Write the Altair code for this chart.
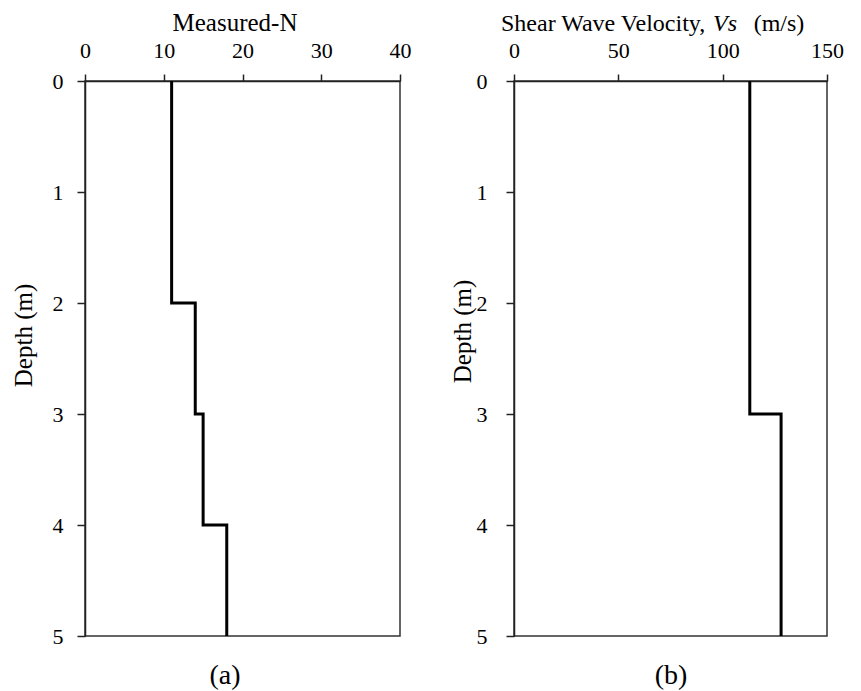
import altair as alt
import pandas as pd

# Panel (a): Measured-N profile
n_top = [0, 2, 3, 4]
n_bottom = [2, 3, 4, 5]
n_value = [11, 14, 15, 18]

# Panel (b): Shear wave velocity profile
vs_top = [0, 3]
vs_bottom = [3, 5]
vs_value = [113, 128]

depth_ticks = [0, 1, 2, 3, 4, 5]
n_ticks = [0, 10, 20, 30, 40]
vs_ticks = [0, 50, 100, 150]

FONT = "Liberation Serif"


def profile(tops, bottoms, values, name):
    rows = []
    i = 0
    for t, b, v in zip(tops, bottoms, values):
        rows.append({"order": i, "depth": t, name: v}); i += 1
        rows.append({"order": i, "depth": b, name: v}); i += 1
    return pd.DataFrame(rows)


df_n = profile(n_top, n_bottom, n_value, "N")
df_vs = profile(vs_top, vs_bottom, vs_value, "Vs")

W1, W2, H = 315, 313, 555

yscale = alt.Scale(domain=[0, 5], reverse=True, nice=False)


def yaxis(title_pad, label_pad, title_y):
    return alt.Axis(values=depth_ticks, title="Depth (m)", titleFont=FONT, titleFontSize=25,
                    titleFontWeight="normal", titleColor="black", titlePadding=title_pad,
                    titleY=title_y,
                    labelFont=FONT, labelFontSize=22, labelColor="black", labelPadding=label_pad,
                    tickSize=8, tickColor="#222", tickWidth=1.5, domainColor="#222",
                    domainWidth=1.5, grid=False)


def xaxis(vals):
    return alt.Axis(orient="top", values=vals, title=None, labelFont=FONT, labelFontSize=22,
                    labelColor="black", labelPadding=12, tickSize=7, tickColor="#222",
                    tickWidth=1.5, domainColor="#222", domainWidth=1.5, grid=False,
                    labelFlush=False)


line_a = alt.Chart(df_n).mark_line(color="black", strokeWidth=3).encode(
    x=alt.X("N:Q", scale=alt.Scale(domain=[0, 40], nice=False), axis=xaxis(n_ticks)),
    y=alt.Y("depth:Q", scale=yscale, axis=yaxis(16, 14, 254)),
    order="order:Q",
)


def label(text, x, y, size=24, align="left", style="normal"):
    return alt.Chart(pd.DataFrame({"t": [text]})).mark_text(
        font=FONT, fontSize=size, align=align, baseline="alphabetic", fontStyle=style,
        color="black").encode(text="t:N", x=alt.value(x), y=alt.value(y))


panel_a = alt.layer(
    line_a,
    label("Measured-N", 150, -50, size=25, align="center"),
    label("(a)", 140, 603, size=28, align="center"),
).properties(width=W1, height=H)

line_b = alt.Chart(df_vs).mark_line(color="black", strokeWidth=3).encode(
    x=alt.X("Vs:Q", scale=alt.Scale(domain=[0, 150], nice=False), axis=xaxis(vs_ticks)),
    y=alt.Y("depth:Q", scale=yscale, axis=yaxis(1, 19, 250)),
    order="order:Q",
)

panel_b = alt.layer(
    line_b,
    label("Shear Wave Velocity,", -13, -50),
    label("Vs", 211, -50, align="center", style="italic"),
    label("(m/s)", 265, -50, align="center"),
    label("(b)", 157, 603, size=28, align="center"),
).properties(width=W2, height=H)

chart = alt.hconcat(panel_a, panel_b, spacing=37).properties(
    padding={"left": 10, "top": 10, "right": 5, "bottom": 5},
    background="white",
).configure_view(stroke="#333", strokeWidth=1.5)

chart.save("out.html", embed_options={"renderer": "svg", "actions": False})
